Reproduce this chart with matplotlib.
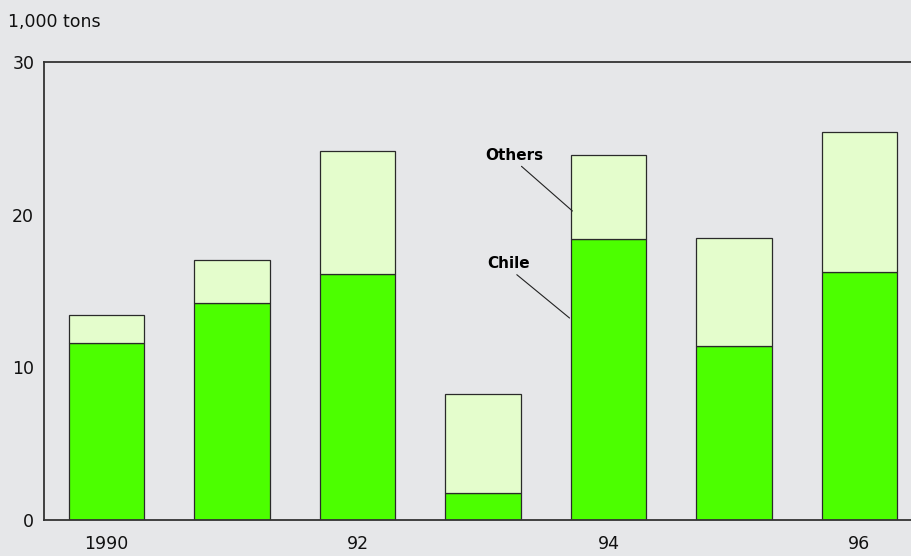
import matplotlib
matplotlib.use("Agg")
import numpy as np
from matplotlib import pyplot as plt

years = ["1990", "", "92", "", "94", "", "96"]
chile = [11.6, 14.2, 16.1, 1.8, 18.4, 11.4, 16.25]
total = [13.4, 17.0, 24.2, 8.25, 23.9, 18.5, 25.4]
others = [t - c for t, c in zip(total, chile)]

bg = "#e6e7e9"
plt.rcParams['font.family'] = ['DejaVu Sans']

fig = plt.figure(figsize=(9.12, 5.56), dpi=100, facecolor=bg)
ax = fig.add_axes([0.0482, 0.0647, 0.9518, 0.8238], facecolor=bg)

x = np.arange(len(years))
ax.bar(x, chile, width=0.6, color="#4cff00", edgecolor="#2a2a2a", linewidth=0.9)
ax.bar(x, others, width=0.6, bottom=chile, color="#e4fdcc", edgecolor="#2a2a2a", linewidth=0.9)

ax.set_xlim(-0.5, 6.42)
ax.set_ylim(0, 30)
ax.set_yticks([0, 10, 20, 30])
ax.set_xticks(x)
ax.set_xticklabels(years)
ax.tick_params(length=0, labelsize=12.5, colors="#111111", pad=7)
ax.tick_params(axis="x", pad=11)

for s in ["left", "top", "bottom"]:
    ax.spines[s].set_color("#333333")
    ax.spines[s].set_linewidth(1.3)
ax.spines["right"].set_visible(False)

# labels pointing at the 94 bar
ax.annotate("Others", xy=(3.713, 20.24), xytext=(3.25, 23.9), ha="center", va="center",
            fontsize=11, fontweight="bold",
            arrowprops=dict(arrowstyle="-", color="#222222", lw=0.8, relpos=(0.55, 0),
                            shrinkA=1, shrinkB=0))
ax.annotate("Chile", xy=(3.69, 13.23), xytext=(3.20, 16.8), ha="center", va="center",
            fontsize=11, fontweight="bold",
            arrowprops=dict(arrowstyle="-", color="#222222", lw=0.8, relpos=(0.6, 0),
                            shrinkA=1, shrinkB=0))

fig.text(0.009, 0.96, "1,000 tons", fontsize=12.5, ha="left", va="center", color="#111111")

fig.savefig("out.png", dpi=100, facecolor=bg)
